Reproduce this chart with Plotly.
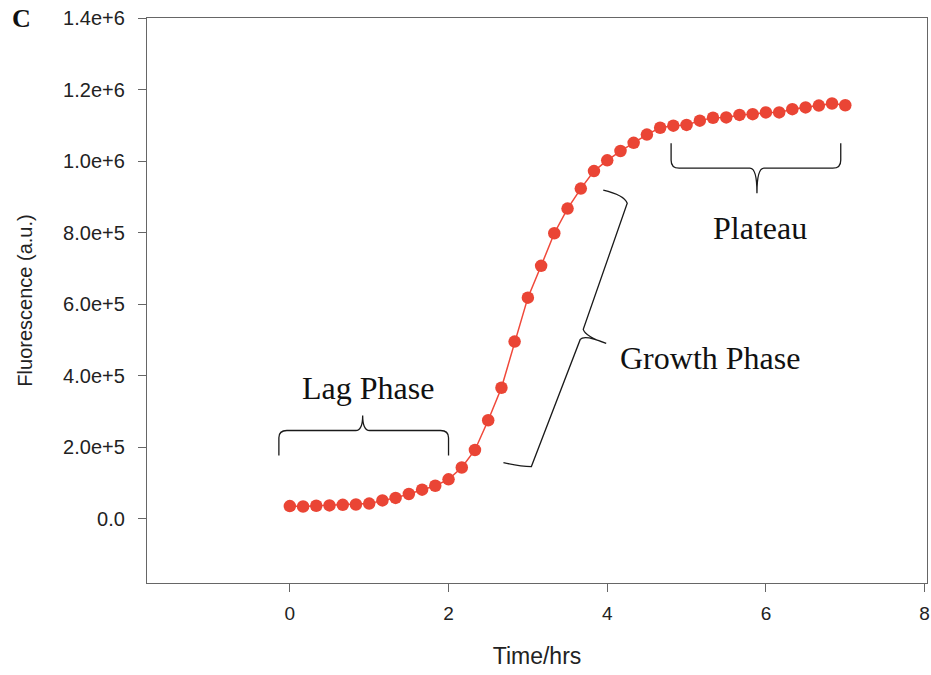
import plotly.graph_objects as go

time_hrs = [0.000, 0.167, 0.333, 0.500, 0.667, 0.833, 1.000, 1.167, 1.333, 1.500,
            1.667, 1.833, 2.000, 2.167, 2.333, 2.500, 2.667, 2.833, 3.000, 3.167,
            3.333, 3.500, 3.667, 3.833, 4.000, 4.167, 4.333, 4.500, 4.667, 4.833,
            5.000, 5.167, 5.333, 5.500, 5.667, 5.833, 6.000, 6.167, 6.333, 6.500,
            6.667, 6.833, 7.000]
fluorescence = [35000, 34000, 36000, 37000, 38500, 39500, 42000, 51000, 58000, 69000,
                81000, 92000, 110000, 143000, 192000, 275000, 366000, 495000, 618000, 707000,
                798000, 867000, 923000, 972000, 1002000, 1028000, 1051000, 1074000, 1093000, 1099000,
                1101000, 1113000, 1121000, 1122000, 1129000, 1131000, 1136000, 1136000, 1145000, 1150000,
                1155000, 1161000, 1156000]

y_tickvals = [0, 200000, 400000, 600000, 800000, 1000000, 1200000, 1400000]
y_ticktext = ["0.0", "2.0e+5", "4.0e+5", "6.0e+5", "8.0e+5", "1.0e+6", "1.2e+6", "1.4e+6"]
x_tickvals = [0, 2, 4, 6, 8]

phase_labels = ["Lag Phase", "Growth Phase", "Plateau"]
phase_label_x = [0.98, 5.30, 5.92]
phase_label_y = [366000, 448000, 812000]

RED = "#EA4535"
SANS = "Liberation Sans, Arial, sans-serif"
SERIF = "Liberation Serif, Times New Roman, serif"

fig = go.Figure()
fig.add_trace(go.Scatter(
    x=time_hrs, y=fluorescence, mode="lines+markers",
    line=dict(color="#F0483A", width=1.5),
    marker=dict(color=RED, size=12.5, line=dict(width=0)),
    showlegend=False,
))

brace_style = dict(type="path", xref="x", yref="y",
                   line=dict(color="#1a1a1a", width=1.3))

lag_path = ("M -0.138,176400 L -0.138,226000 Q -0.138,246400 -0.038,246400 "
            "L 0.83,246400 Q 0.918,246400 0.918,288400 Q 0.918,246400 1.006,246400 "
            "L 1.90,246400 Q 2.0,246400 2.0,226000 L 2.0,176400")
plateau_path = ("M 4.805,1050000 L 4.805,1002400 Q 4.805,980000 4.906,980000 "
                "L 5.799,980000 Q 5.887,980000 5.887,910000 Q 5.887,980000 5.975,980000 "
                "L 6.843,980000 Q 6.943,980000 6.943,1002400 L 6.943,1050000")
growth_path = ("M 3.950,918400 Q 4.214,904400 4.252,882000 L 3.698,529200 "
               "Q 3.723,509600 3.987,490000 Q 3.711,515200 3.660,501200 "
               "L 3.044,145600 Q 2.906,145600 2.692,156800")
for p in (lag_path, plateau_path, growth_path):
    fig.add_shape(path=p, **brace_style)

for txt, x, y in zip(phase_labels, phase_label_x, phase_label_y):
    fig.add_annotation(x=x, y=y, xref="x", yref="y", text=txt, showarrow=False,
                       font=dict(family=SERIF, size=32, color="#111"),
                       xanchor="center", yanchor="middle")

fig.add_annotation(xref="paper", yref="paper", x=-0.176, y=1.0, text="<b>C</b>",
                   showarrow=False, font=dict(family=SERIF, size=26, color="#111"),
                   xanchor="left", yanchor="middle")

axis_common = dict(showline=True, linecolor="#666", linewidth=1.3, mirror=True,
                   showgrid=False, zeroline=False, ticks="outside", ticklen=8,
                   tickcolor="#666", tickwidth=1.2, automargin=False)

fig.update_layout(
    width=931, height=675,
    margin=dict(l=147, r=4, t=18, b=92),
    plot_bgcolor="white", paper_bgcolor="white",
    xaxis=dict(range=[-1.8, 8.03], tickvals=x_tickvals, ticklabelstandoff=5,
               tickfont=dict(family=SANS, size=19, color="#222"),
               title=dict(text="Time/hrs", standoff=24,
                          font=dict(family=SANS, size=23, color="#222")),
               **axis_common),
    yaxis=dict(range=[-180000, 1400000], tickvals=y_tickvals, ticktext=y_ticktext,
               ticklabelstandoff=9,
               tickfont=dict(family=SANS, size=20, color="#222"),
               title=dict(text="Fluorescence (a.u.)", standoff=25,
                          font=dict(family=SANS, size=20, color="#222")),
               **axis_common),
)

fig.write_html("out.html")
